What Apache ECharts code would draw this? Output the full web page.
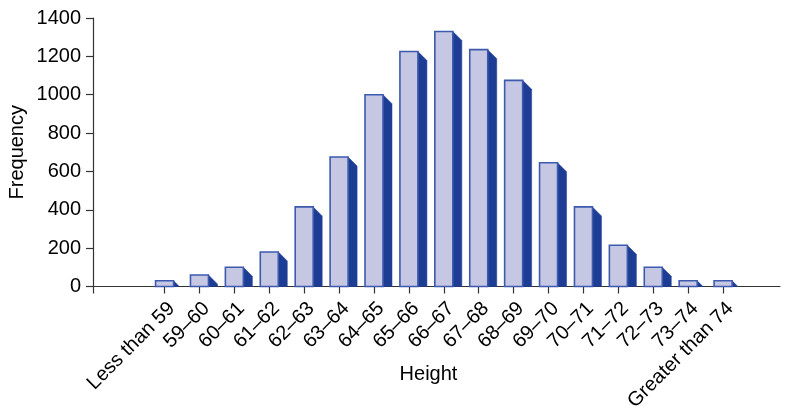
<!DOCTYPE html>
<html><head><meta charset="utf-8">
<script src="https://cdn.jsdelivr.net/npm/echarts@6/dist/echarts.min.js"></script>
<style>html,body{margin:0;padding:0;background:#fff}#c{width:787px;height:410px}</style>
</head><body><div id="c"></div>
<script>
const categories = ['Less than 59','59\u201360','60\u201361','61\u201362','62\u201363','63\u201364','64\u201365','65\u201366','66\u201367','67\u201368','68\u201369','69\u201370','70\u201371','71\u201372','72\u201373','73\u201374','Greater than 74'];
const frequency = [30, 60, 100, 180, 415, 675, 1000, 1225, 1330, 1235, 1075, 645, 415, 215, 100, 30, 30];
const yTicks = [0, 200, 400, 600, 800, 1000, 1200, 1400];

const FONT = 'Liberation Sans';
const chart = echarts.init(document.getElementById('c'));
const idx = categories.map((_, i) => i);
chart.setOption({
  animation: false,
  grid: {left: 93, right: 7, top: 18, bottom: 123.5, containLabel: false, outerBoundsMode: 'none'},
  xAxis: {
    type: 'value', min: -2.05, max: 17.63,
    name: 'Height', nameLocation: 'middle', nameGap: 78, nameMoveOverlap: false,
    nameTextStyle: {fontFamily: FONT, fontSize: 20, color: '#000', padding: [0, 16, 0, 0]},
    axisLine: {show: true, onZero: false, lineStyle: {color: '#333', width: 1.2}},
    axisTick: {show: true, length: 7, lineStyle: {color: '#333', width: 1.2}, customValues: [-2.05].concat(idx)},
    axisLabel: {customValues: idx, rotate: 45, margin: 12, verticalAlign: 'top', fontFamily: FONT, fontSize: 20, color: '#000',
      formatter: v => categories[Math.round(v)] || ''},
    splitLine: {show: false}
  },
  yAxis: {
    type: 'value', min: 0, max: 1400, interval: 200,
    name: 'Frequency', nameLocation: 'middle', nameGap: 66, nameRotate: 90, nameMoveOverlap: false,
    nameTextStyle: {fontFamily: FONT, fontSize: 20, color: '#000'},
    axisLine: {show: true, onZero: false, lineStyle: {color: '#333', width: 1.2}},
    axisTick: {show: true, length: 7, lineStyle: {color: '#333', width: 1.2}},
    axisLabel: {margin: 12, fontFamily: FONT, fontSize: 20, color: '#000',
      formatter: v => yTicks.includes(v) ? String(v) : ''},
    splitLine: {show: false}
  },
  series: [{
    type: 'custom',
    data: frequency.map((v, i) => [i, v]),
    encode: {x: 0, y: 1},
    renderItem: function (params, api) {
      const i = api.value(0), v = api.value(1);
      const base = api.coord([i, 0]);
      const top = api.coord([i, v]);
      const w = 18, d = 9;
      const xl = base[0] - w / 2, xr = base[0] + w / 2;
      const yb = base[1], yt = top[1];
      let side;
      if (yt + d <= yb) {
        side = [[xr, yt], [xr + d, yt + d], [xr + d, yb], [xr, yb]];
      } else {
        const h = yb - yt;
        side = [[xr, yt], [xr + h, yb], [xr, yb]];
      }
      return {
        type: 'group',
        children: [
          {type: 'polygon', shape: {points: side}, style: {fill: '#1D3D95', stroke: '#1D3D95', lineWidth: 0.5}},
          {type: 'rect', shape: {x: xl, y: yt, width: w, height: yb - yt},
            style: {fill: '#C5C7E3', stroke: '#3D5AAE', lineWidth: 1.6}}
        ]
      };
    }
  }]
});
</script></body></html>
